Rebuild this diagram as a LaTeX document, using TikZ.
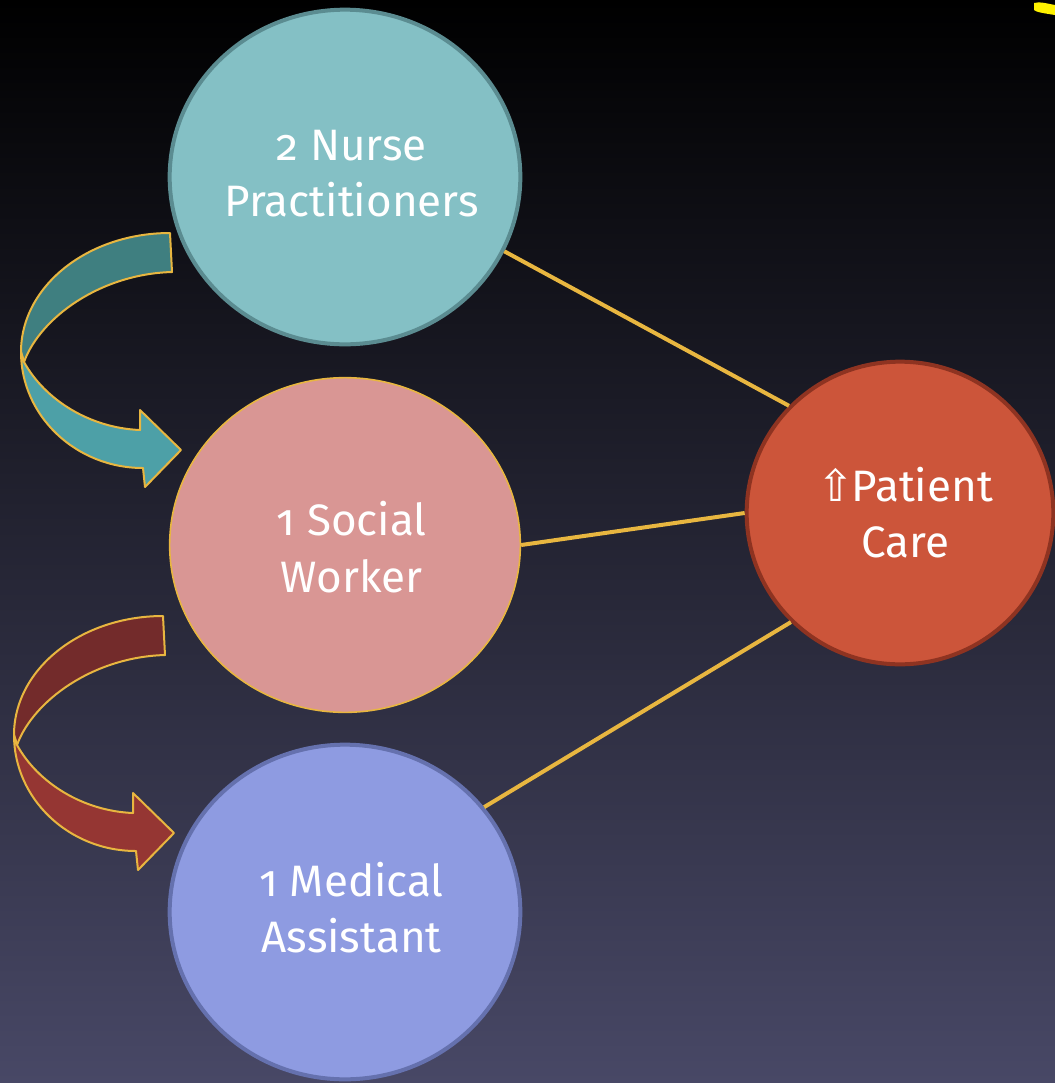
\documentclass[tikz,border=0pt]{standalone}
\usepackage{fontspec}
\setmainfont{Fira Sans}[Numbers=OldStyle]
\newfontfamily\symfont{DejaVu Sans}
\usetikzlibrary{shapes.geometric}
\newcommand\bubtext[2][10pt]{\makebox[0pt]{\hspace{#1}\begin{tabular}{@{}c@{}}#2\end{tabular}}}
\definecolor{bgmid}{HTML}{1F1E37}
\definecolor{bgbot}{HTML}{484866}
\definecolor{nursefill}{HTML}{84C0C5}
\definecolor{nurseedge}{HTML}{5B8C91}
\definecolor{socialfill}{HTML}{D99694}
\definecolor{gold}{HTML}{E8B640}
\definecolor{medfill}{HTML}{8E9BE1}
\definecolor{mededge}{HTML}{6571AE}
\definecolor{patfill}{HTML}{CC553A}
\definecolor{patedge}{HTML}{8E3321}
\definecolor{tealdark}{HTML}{3F7F80}
\definecolor{teallight}{HTML}{4DA0A7}
\definecolor{reddark}{HTML}{732B2B}
\definecolor{redlight}{HTML}{953633}
\begin{document}
\begin{tikzpicture}[x=0.75pt,y=-0.75pt,
  bubble/.style={ellipse, inner sep=0pt, text=white,
    font=\fontsize{33}{42.5}\selectfont, minimum width=263pt, minimum height=251pt},
  conn/.style={draw=gold, line width=3pt},
  arrowedge/.style={draw=gold, line width=1.5pt, line join=round},
  pics/curvarrow/.style 2 args={code={
    \filldraw[arrowedge, fill=#1] (170,233) .. controls (88,233) and (21,286) .. (21,352)
      -- (24,362) .. controls (40,318) and (100,274) .. (172,272) -- cycle;
    \filldraw[arrowedge, fill=#2] (21,352) .. controls (21,416) and (76,468) .. (143,468)
      -- (145,487) -- (181,450) -- (140,410) -- (140,430)
      .. controls (90,428) and (45,400) .. (24,362) -- cycle;
  }}]
\useasboundingbox (0,0) rectangle (1055,1083);
\shade[top color=black, middle color=bgmid, bottom color=bgbot] (0,0) rectangle (1055,1083);
\fill[yellow] (1034,3) .. controls (1040,2) .. (1055,5) -- (1055,15)
  .. controls (1042,13) and (1036,12) .. (1034,10) -- cycle;

\node[bubble, fill=nursefill, draw=nurseedge, line width=3pt] (nurse) at (345,177) {\bubtext{2 Nurse\\Practitioners}};
\node[bubble, fill=socialfill, draw=gold, line width=1.2pt] (social) at (345,545) {\raisebox{-12pt}[0pt][0pt]{\bubtext{1 Social\\Worker}}};
\node[bubble, fill=medfill, draw=mededge, line width=3pt] (medical) at (345,912) {\raisebox{-7pt}[0pt][0pt]{\bubtext{1 Medical\\Assistant}}};
\node[bubble, fill=patfill, draw=patedge, line width=3pt, minimum width=230pt, minimum height=227pt] (patient) at (900,513) {\raisebox{-10pt}[0pt][0pt]{\bubtext[8pt]{{\symfont ⇧}\kern-2pt Patient\\Care}}};

\draw[conn] (nurse.-25) -- (patient.136);
\draw[conn] (social.0) -- (patient.180);
\draw[conn] (medical.37) -- (patient.225);

\pic at (0,0) {curvarrow={tealdark}{teallight}};
\pic at (-7,383) {curvarrow={reddark}{redlight}};
\end{tikzpicture}
\end{document}
